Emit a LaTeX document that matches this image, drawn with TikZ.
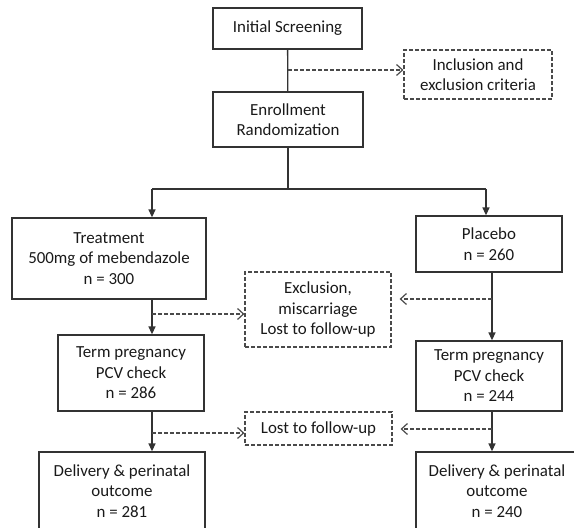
\documentclass[tikz,border=0pt]{standalone}
\usepackage{fontspec}
\setmainfont{Carlito}
\usepackage{tikz}
\usetikzlibrary{arrows.meta, positioning}

\definecolor{boxgray}{HTML}{333333}
\definecolor{dashgray}{HTML}{4A4A4A}

\begin{document}
\begin{tikzpicture}[
		x=1pt, y=-1pt,
		font=\fontsize{16.9pt}{20.5pt}\selectfont,
		stage/.style={
			rectangle,
			draw=boxgray,
			line width=1.3pt,
			inner sep=0pt,
			text=black!90,
			align=center
		},
		note/.style={
			stage,
			draw=dashgray,
			line width=1.2pt,
			dash pattern=on 4pt off 2pt
		},
		link/.style={
			boxgray,
			line width=1.3pt
		},
		arrow/.style={
			link,
			-{Triangle[length=8pt, width=7pt]}
		},
		dasharrow/.style={
			dashgray,
			line width=1.2pt,
			dash pattern=on 4pt off 2pt,
			-{Straight Barb[length=6pt, width=11pt]}
		}
	]
	
	\useasboundingbox (0,0) rectangle (574,528);
	\clip (0,0) rectangle (574,528);
	
	\node[stage, minimum width=149pt, minimum height=41pt] (screen) at (287.5,28.5) {Initial Screening};
	\node[note, minimum width=148pt, minimum height=49pt] (incl) at (478,74.5) {Inclusion and\\exclusion criteria};
	\node[stage, minimum width=150pt, minimum height=55pt] (enroll) at (288,119.5) {Enrollment\\Randomization};
	\node[stage, minimum width=194pt, minimum height=81pt] (treat) at (109,258.5) {Treatment\\500mg of mebendazole\\n = 300};
	\node[stage, minimum width=146pt, minimum height=56pt] (plac) at (489,244) {Placebo\\n = 260};
	\node[note, minimum width=146pt, minimum height=75pt] (excl) at (318,309.5) {Exclusion,\\miscarriage\\Lost to follow-up};
	\node[stage, minimum width=146pt, minimum height=76pt] (termT) at (131,373) {Term pregnancy\\PCV check\\n = 286};
	\node[stage, minimum width=146pt, minimum height=70pt] (termP) at (489,376) {Term pregnancy\\PCV check\\n = 244};
	\node[note, minimum width=147pt, minimum height=33pt] (lost) at (318.5,428.5) {Lost to follow-up};
	\node[stage, minimum width=166pt, minimum height=78pt] (delT) at (122,491) {Delivery \& perinatal\\outcome\\n = 281};
	\node[stage, minimum width=162pt, minimum height=78pt] (delP) at (497,491) {Delivery \& perinatal\\outcome\\n = 240};
	
	% columns of the two arms
	\coordinate (colT) at (152,0);
	\coordinate (colP) at (492,0);
	
	% screening and randomization
	\coordinate (scrTap) at (288,70);
	\draw[link] (screen) -- (enroll);
	\draw[dasharrow] (scrTap) -- (scrTap -| incl.west);
	\coordinate (split) at (288,189);
	\coordinate (splitT) at (152,189);
	\coordinate (splitP) at (486,189);
	\draw[link] (enroll) -- (split);
	\draw[link] (splitT) -- (splitP);
	\draw[arrow] (splitT) -- (splitT |- treat.north);
	\draw[arrow] (splitP) -- (splitP |- plac.north);
	
	% first follow-up
	\coordinate (tapT1) at (152,314);
	\coordinate (tapP1) at (492,299);
	\draw[arrow] (colT |- treat.south) -- (colT |- termT.north);
	\draw[arrow] (colP |- plac.south) -- (colP |- termP.north);
	\draw[dasharrow] (tapT1) -- (tapT1 -| excl.west);
	\draw[dasharrow, shorten >=8pt] (tapP1) -- (tapP1 -| excl.east);
	
	% second follow-up
	\coordinate (tapT2) at (152,433);
	\coordinate (tapP2) at (492,429);
	\draw[arrow] (colT |- termT.south) -- (colT |- delT.north);
	\draw[arrow] (colP |- termP.south) -- (colP |- delP.north);
	\draw[dasharrow] (tapT2) -- (tapT2 -| lost.west);
	\draw[dasharrow, shorten >=8pt] (tapP2) -- (tapP2 -| lost.east);
	
\end{tikzpicture}
\end{document}
